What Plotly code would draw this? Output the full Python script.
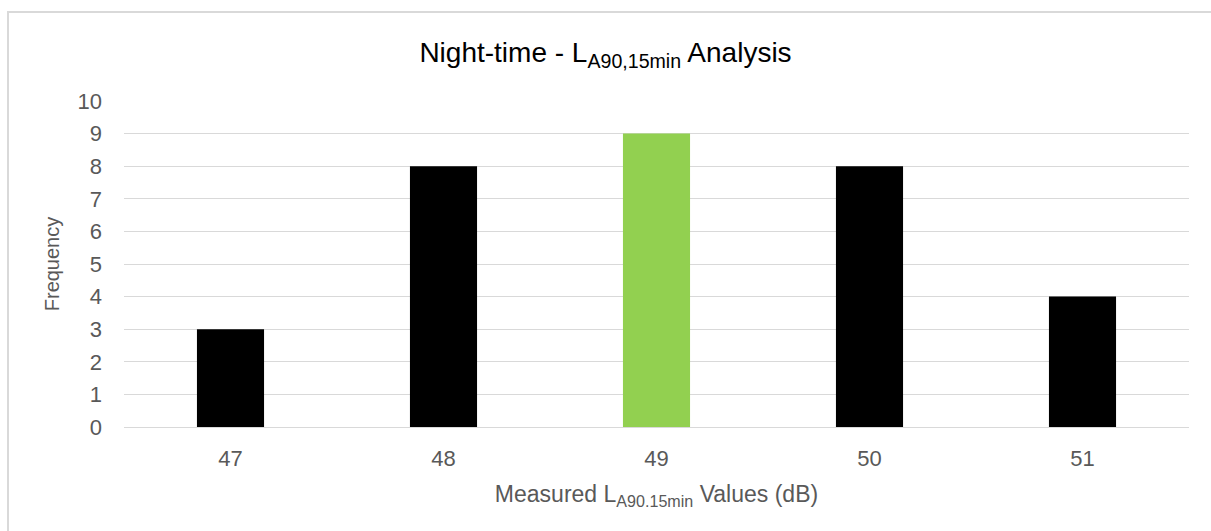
import plotly.graph_objects as go

# Night-time LA90,15min histogram data
levels = ["47", "48", "49", "50", "51"]
frequency = [3, 8, 9, 8, 4]
bar_colors = ["#000000", "#000000", "#92D050", "#000000", "#000000"]
y_ticks = list(range(0, 11))

W, H = 1211, 531
ml, mr, mt, mb = 124, 22, 101, 104
pw = W - ml - mr
ph = H - mt - mb

fig = go.Figure(
    go.Bar(
        x=levels,
        y=frequency,
        marker=dict(color=bar_colors, line=dict(width=0)),
        hoverinfo="x+y",
    )
)

font_family = "Liberation Sans, Arial, sans-serif"
fig.update_layout(
    width=W,
    height=H,
    margin=dict(l=ml, r=mr, t=mt, b=mb),
    paper_bgcolor="white",
    plot_bgcolor="white",
    bargap=0.685,
    showlegend=False,
    font=dict(family=font_family, color="#595959"),
    title=dict(
        text="Night-time - L<sub>A90,15min</sub> Analysis",
        x=0.5,
        xanchor="center",
        y=1 - 52 / H,
        yanchor="middle",
        font=dict(size=28, color="#000000", family=font_family),
    ),
    xaxis=dict(
        type="category",
        showgrid=False,
        showline=True,
        linecolor="#d9d9d9",
        linewidth=1,
        ticks="",
        tickfont=dict(size=22, color="#595959"),
        ticklabelstandoff=12,
        title=dict(
            text="Measured L<sub>A90.15min</sub> Values (dB)",
            font=dict(size=23, color="#595959"),
            standoff=15,
        ),
    ),
    yaxis=dict(
        range=[0, 10],
        tickvals=y_ticks,
        showgrid=True,
        gridcolor="#d9d9d9",
        gridwidth=1,
        zeroline=False,
        showline=False,
        ticks="",
        tickfont=dict(size=22, color="#595959"),
        ticklabelstandoff=21,
        title=dict(text="Frequency", font=dict(size=20, color="#595959"), standoff=12),
    ),
)

# Chart-area border
x0 = (8 - ml) / pw
y1 = 1 + (mt - 12) / ph
fig.add_shape(
    type="rect",
    xref="paper",
    yref="paper",
    x0=x0,
    x1=1 + (mr + 10) / pw,
    y0=-(mb + 10) / ph,
    y1=y1,
    line=dict(color="#d9d9d9", width=2),
    fillcolor="rgba(0,0,0,0)",
    layer="below",
)

fig.write_html("out.html")
